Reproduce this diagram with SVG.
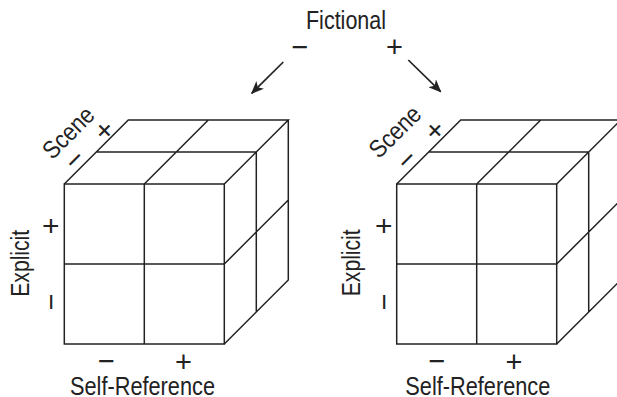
<svg xmlns="http://www.w3.org/2000/svg" xmlns:xlink="http://www.w3.org/1999/xlink" width="617" height="397" viewBox="0 0 617 397">
<style>
.edge{fill:none;stroke:#222;stroke-width:1.5;stroke-linejoin:miter}
.lbl{font-family:"Liberation Sans",Arial,sans-serif;font-size:25px;fill:#222}
.pm{font-family:"Liberation Sans",Arial,sans-serif;font-size:29px;fill:#222;text-anchor:middle}
.arrow{fill:none;stroke:#222;stroke-width:1.7}
</style>
<defs>
<marker id="ah" viewBox="0 0 13 11" refX="12" refY="5.5" markerWidth="13" markerHeight="11" markerUnits="userSpaceOnUse" orient="auto">
<path d="M0,0 L13,5.5 L0,11 L3.5,5.5 Z" fill="#222"/>
</marker>
<g id="cube">
<rect class="edge" x="0" y="0" width="160" height="160"/>
<path class="edge" d="M80,0V160M0,80H160M0,0L64,-64H224L160,0M32,-32H192M80,0L144,-64M224,-64V96L160,160M192,-32V128M160,80L224,16"/>
</g>
</defs>
<g id="fictional">
<text class="lbl" x="346" y="29" text-anchor="middle" textLength="80" lengthAdjust="spacingAndGlyphs">Fictional</text>
<text class="pm" x="300" y="57">−</text>
<text class="pm" x="394.5" y="57.3">+</text>
</g>
<g id="connectors">
<line class="arrow" x1="283.3" y1="62" x2="251.7" y2="93.3" marker-end="url(#ah)"/>
<line class="arrow" x1="408.3" y1="60" x2="440.7" y2="91.7" marker-end="url(#ah)"/>
</g>
<g id="cube-left">
<use xlink:href="#cube" href="#cube" transform="translate(64.3,184)"/>
<text class="lbl" transform="translate(74.3,138.5) rotate(-45)" text-anchor="middle" textLength="62" lengthAdjust="spacingAndGlyphs">Scene</text>
<text class="pm" transform="translate(74.3,159.3) rotate(-45)" y="10.2">−</text>
<text class="pm" transform="translate(104,130) rotate(-45)" y="10.2">+</text>
<text class="lbl" transform="translate(29.3,263.3) rotate(-90)" text-anchor="middle" textLength="67" lengthAdjust="spacingAndGlyphs">Explicit</text>
<text class="pm" transform="translate(51,226) rotate(-90)" y="10.2">+</text>
<text class="pm" transform="translate(51,301.7) rotate(-90)" y="10.2">−</text>
<text class="pm" x="106.5" y="370.9">−</text>
<text class="pm" x="183.5" y="371.7">+</text>
<text class="lbl" x="142.5" y="394.5" text-anchor="middle" textLength="145" lengthAdjust="spacingAndGlyphs">Self-Reference</text>
</g>
<g id="cube-right">
<use xlink:href="#cube" href="#cube" transform="translate(396.7,184)"/>
<text class="lbl" transform="translate(401,137.7) rotate(-45)" text-anchor="middle" textLength="62" lengthAdjust="spacingAndGlyphs">Scene</text>
<text class="pm" transform="translate(406.5,159.3) rotate(-45)" y="10.2">−</text>
<text class="pm" transform="translate(434.5,130) rotate(-45)" y="10.2">+</text>
<text class="lbl" transform="translate(359.7,262.8) rotate(-90)" text-anchor="middle" textLength="67" lengthAdjust="spacingAndGlyphs">Explicit</text>
<text class="pm" transform="translate(384,226) rotate(-90)" y="10.2">+</text>
<text class="pm" transform="translate(384,301.7) rotate(-90)" y="10.2">−</text>
<text class="pm" x="437" y="370.9">−</text>
<text class="pm" x="514" y="371.7">+</text>
<text class="lbl" x="477.8" y="394.5" text-anchor="middle" textLength="145" lengthAdjust="spacingAndGlyphs">Self-Reference</text>
</g>
</svg>
